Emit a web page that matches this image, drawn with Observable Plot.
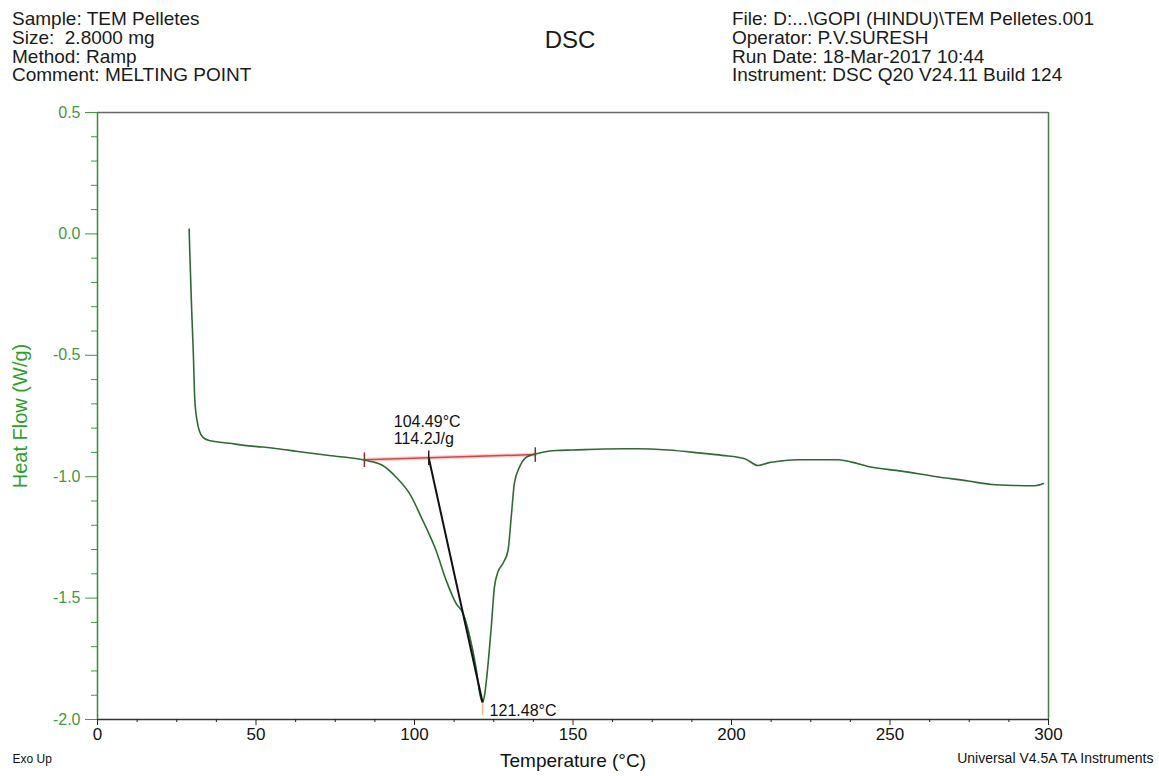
<!DOCTYPE html>
<html>
<head>
<meta charset="utf-8">
<script src="https://cdn.jsdelivr.net/npm/d3@7"></script>
<script src="https://cdn.jsdelivr.net/npm/@observablehq/plot@0.6"></script>
<style>
  html, body { margin: 0; padding: 0; background: #fff; }
  body { width: 1159px; height: 776px; overflow: hidden; font-family: "Liberation Sans", Arial, sans-serif; }
  #header { position: relative; height: 100px; color: #1a1a1a; }
  .block { position: absolute; top: 10px; font-size: 19px; line-height: 18.8px; white-space: pre; }
  #title { position: absolute; left: 570px; top: 26px; transform: translateX(-50%); font-size: 24px; color: #1a1a1a; }
</style>
</head>
<body>
<div id="header">
  <div class="block" id="left" style="left:12px"></div>
  <div id="title"></div>
  <div class="block" id="right" style="left:732px"></div>
</div>
<div id="chart"></div>
<script>
// ---- header texts ----
const headerLeft = ["Sample: TEM Pelletes", "Size:  2.8000 mg", "Method: Ramp", "Comment: MELTING POINT"];
const headerRight = ["File: D:...\\GOPI (HINDU)\\TEM Pelletes.001", "Operator: P.V.SURESH", "Run Date: 18-Mar-2017 10:44", "Instrument: DSC Q20 V24.11 Build 124"];
const chartTitle = "DSC";
const xLabel = "Temperature (°C)";
const yLabel = "Heat Flow (W/g)";
const cornerLeft = "Exo Up";
const cornerRight = "Universal V4.5A TA Instruments";

// ---- ticks ----
const xTicks = [0, 50, 100, 150, 200, 250, 300];
const xMinorTicks = [12.5, 25, 37.5, 62.5, 75, 87.5, 112.5, 125, 137.5, 162.5, 175, 187.5, 212.5, 225, 237.5, 262.5, 275, 287.5];
const yTicks = [0.5, 0.0, -0.5, -1.0, -1.5, -2.0];
const yMinorTicks = [0.4, 0.3, 0.2, 0.1, -0.1, -0.2, -0.3, -0.4, -0.6, -0.7, -0.8, -0.9, -1.1, -1.2, -1.3, -1.4, -1.6, -1.7, -1.8, -1.9];

// ---- DSC curve (temperature °C, heat flow W/g) ----
const temps = [28.9, 29.2, 29.7, 30.2, 30.7, 31.6, 32.1, 33.2, 35.2, 41.6, 46.3, 52.1, 56.8, 62.6, 73.1, 83.7,
  85.8, 90.0, 94.2, 98.4, 102.6, 106.8, 110.0, 113.1, 115.3, 117.2, 119.4, 120.7, 121.48, 122.1, 123.1, 124.2,
  125.2, 126.3, 127.9, 129.5, 130.5, 131.5, 133.1, 135.2, 137.4, 140.5, 144.7, 150, 160, 170, 180, 190.5, 197,
  204.2, 208.4, 211.6, 216, 221.0, 233.7, 237.9, 243.1, 253.6, 264.2, 274.7, 282.1, 289, 295.7, 298.4];
const flow = [0.02, -0.11, -0.31, -0.48, -0.686, -0.782, -0.810, -0.837, -0.851, -0.862, -0.871, -0.878, -0.885, -0.895, -0.913, -0.930,
  -0.936, -0.954, -1.002, -1.069, -1.180, -1.304, -1.427, -1.522, -1.563, -1.646, -1.786, -1.90, -1.93, -1.90, -1.786, -1.621,
  -1.456, -1.393, -1.357, -1.304, -1.168, -1.028, -0.961, -0.920, -0.909, -0.899, -0.892, -0.890, -0.886, -0.885, -0.890, -0.903, -0.912,
  -0.926, -0.954, -0.943, -0.935, -0.930, -0.930, -0.940, -0.958, -0.977, -0.999, -1.018, -1.032, -1.036, -1.037, -1.028];

// ---- peak integration annotation ----
const baselineT = [84.2, 138.1];
const baselineV = [-0.930, -0.909];
const onsetT = [104.49];
const onsetV = [-0.922];
const peakT = [121.48];
const peakV = [-1.93];
const onsetLabel = ["104.49°C\n114.2J/g"];
const peakLabel = ["121.48°C"];

document.getElementById("left").textContent = headerLeft.join("\n");
document.getElementById("right").textContent = headerRight.join("\n");
document.getElementById("title").textContent = chartTitle;

const curve = temps.map((t, i) => ({t, v: flow[i]}));
const baseline = baselineT.map((t, i) => ({t, v: baselineV[i]}));
const onset = onsetT.map((t, i) => ({t, v: onsetV[i]}));
const peak = peakT.map((t, i) => ({t, v: peakV[i], label: peakLabel[i]}));
const fitLine = [{t1: onsetT[0], v1: onsetV[0], t2: peakT[0], v2: peakV[0]}];

const green = "#2f8f2f";
const curveColor = "#2f6a35";
const tickH = 0.03;

const chart = Plot.plot({
  width: 1159,
  height: 676,
  marginLeft: 97,
  marginRight: 111,
  marginTop: 12,
  marginBottom: 57,
  style: {fontFamily: "'Liberation Sans', Arial, sans-serif", background: "white", overflow: "visible"},
  x: {domain: [0, 300]},
  y: {domain: [-2, 0.5]},
  marks: [
    // frame
    Plot.ruleY([0.5], {stroke: "#666", strokeWidth: 1.5}),
    Plot.ruleY([-2], {stroke: "#333", strokeWidth: 1.5}),
    Plot.ruleX([0], {stroke: green, strokeWidth: 1.5}),
    Plot.ruleX([300], {stroke: "#4a7a4a", strokeWidth: 1.5}),
    // axes
    Plot.axisX({ticks: xTicks, tickSize: 6, tickPadding: 2, fontSize: 17, label: null, stroke: "#222", fill: "#111"}),
    Plot.axisX({ticks: xMinorTicks, tickSize: 3, tickFormat: () => "", label: null, stroke: "#222"}),
    Plot.axisY({ticks: yTicks, tickSize: 12, tickPadding: 5, fontSize: 16, label: null, tickFormat: d => d.toFixed(1), color: "#3f9a3f"}),
    Plot.axisY({ticks: yMinorTicks, tickSize: 6, tickFormat: () => "", label: null, color: "#3f9a3f"}),
    // axis labels & corner notes
    Plot.text([yLabel], {frameAnchor: "left", textAnchor: "middle", dx: -77, rotate: -90, fontSize: 20, fill: "#2ea02e"}),
    Plot.text([xLabel], {frameAnchor: "bottom", textAnchor: "middle", dy: 47, fontSize: 19, fill: "#111"}),
    Plot.text([cornerLeft], {frameAnchor: "bottom-left", dx: -85, dy: 43, textAnchor: "start", fontSize: 12, fill: "#111"}),
    Plot.text([cornerRight], {frameAnchor: "bottom-right", dx: 105, dy: 43, textAnchor: "end", fontSize: 14, fill: "#111"}),
    // integration baseline (red) with end ticks
    Plot.line(baseline, {x: "t", y: "v", stroke: "#f2a0a0", strokeWidth: 4, strokeOpacity: 0.5}),
    Plot.line(baseline, {x: "t", y: "v", stroke: "#d04848", strokeWidth: 1.5}),
    Plot.link(baseline, {x1: "t", x2: "t", y1: d => d.v + tickH, y2: d => d.v - tickH, stroke: "#8a2a2a", strokeWidth: 1.5}),
    // DSC curve
    Plot.line(curve, {x: "t", y: "v", stroke: curveColor, strokeWidth: 1.6, curve: "monotone-x"}),
    // onset tangent line (black)
    Plot.link(fitLine, {x1: "t1", y1: "v1", x2: "t2", y2: "v2", stroke: "#111", strokeWidth: 2}),
    Plot.link(onset, {x1: "t", x2: "t", y1: d => d.v + tickH, y2: d => d.v - tickH, stroke: "#222", strokeWidth: 1.5}),
    Plot.link(peak, {x1: "t", x2: "t", y1: "v", y2: d => d.v - 0.05, stroke: "#f0b88a", strokeWidth: 1.5}),
    // annotation texts
    Plot.text(onset, {x: "t", y: "v", text: () => onsetLabel[0], textAnchor: "start", lineAnchor: "bottom", dx: -35, dy: -14, fontSize: 16, lineHeight: 1.05, fill: "#111"}),
    Plot.text(peak, {x: "t", y: "v", text: "label", textAnchor: "start", dx: 7, dy: 8, fontSize: 16, fill: "#111"})
  ]
});
document.getElementById("chart").appendChild(chart);
</script>
</body>
</html>
